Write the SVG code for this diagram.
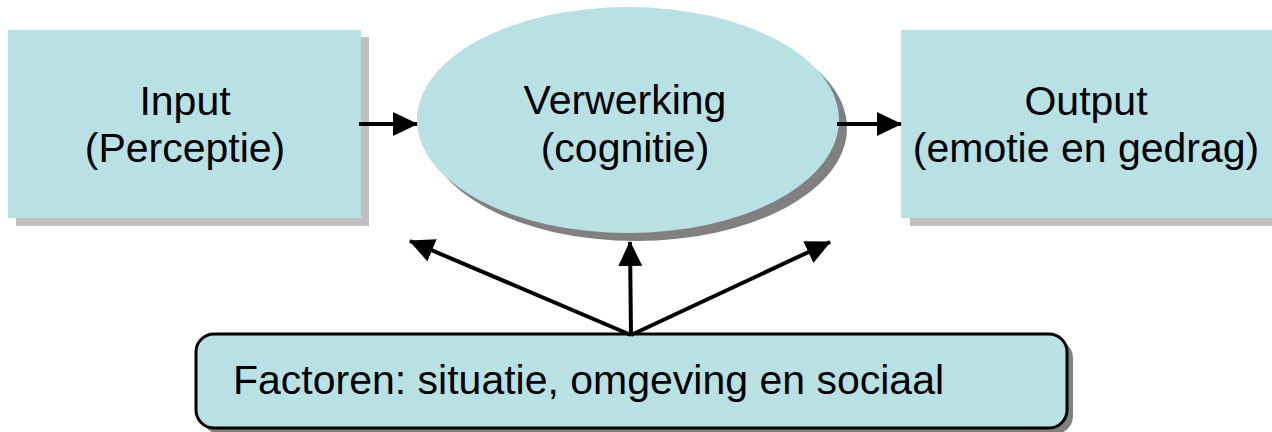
<svg xmlns="http://www.w3.org/2000/svg" width="1272" height="432" viewBox="0 0 1272 432">
<style>
.fill{fill:#b9e0e3}
.lbl{font-family:"Liberation Sans",Arial,sans-serif;font-size:41px;fill:#000}
.conn{stroke:#000;stroke-width:4;fill:none}
</style>
<defs>
<marker id="ah" markerUnits="userSpaceOnUse" markerWidth="26" markerHeight="24" refX="24" refY="12" orient="auto">
<path d="M0,0 L25,12 L0,24 z" fill="#000"/>
</marker>
</defs>
<g id="input">
<rect x="16" y="37" width="353" height="189" fill="#c0c0c0"/>
<rect x="8" y="30" width="353" height="188" class="fill"/>
<text class="lbl" text-anchor="middle" x="185" y="115">Input</text>
<text class="lbl" text-anchor="middle" x="185" y="162">(Perceptie)</text>
</g>
<g id="verwerking">
<ellipse cx="636" cy="128" rx="211" ry="113" fill="#808080"/>
<ellipse cx="628" cy="120" rx="211" ry="113" class="fill"/>
<text class="lbl" text-anchor="middle" x="625" y="114">Verwerking</text>
<text class="lbl" text-anchor="middle" x="625" y="162">(cognitie)</text>
</g>
<g id="output">
<rect x="910" y="37" width="370" height="189" fill="#c0c0c0"/>
<rect x="901" y="30" width="371" height="188" class="fill"/>
<text class="lbl" text-anchor="middle" x="1086" y="115">Output</text>
<text class="lbl" text-anchor="middle" x="1086" y="162">(emotie en gedrag)</text>
</g>
<g id="factoren">
<rect x="202" y="340" width="871" height="94" rx="18" fill="#808080"/>
<rect x="196" y="334" width="871" height="94" rx="18" class="fill" stroke="#000" stroke-width="3"/>
<text class="lbl" x="233" y="394">Factoren: situatie, omgeving en sociaal</text>
</g>
<g id="connectors">
<line class="conn" x1="359" y1="124" x2="417" y2="124" marker-end="url(#ah)"/>
<line class="conn" x1="837" y1="124" x2="901" y2="124" marker-end="url(#ah)"/>
<line class="conn" x1="631" y1="335" x2="410" y2="241" marker-end="url(#ah)"/>
<line class="conn" x1="631" y1="335" x2="630" y2="242" marker-end="url(#ah)"/>
<line class="conn" x1="631" y1="335" x2="830" y2="242" marker-end="url(#ah)"/>
</g>
</svg>
